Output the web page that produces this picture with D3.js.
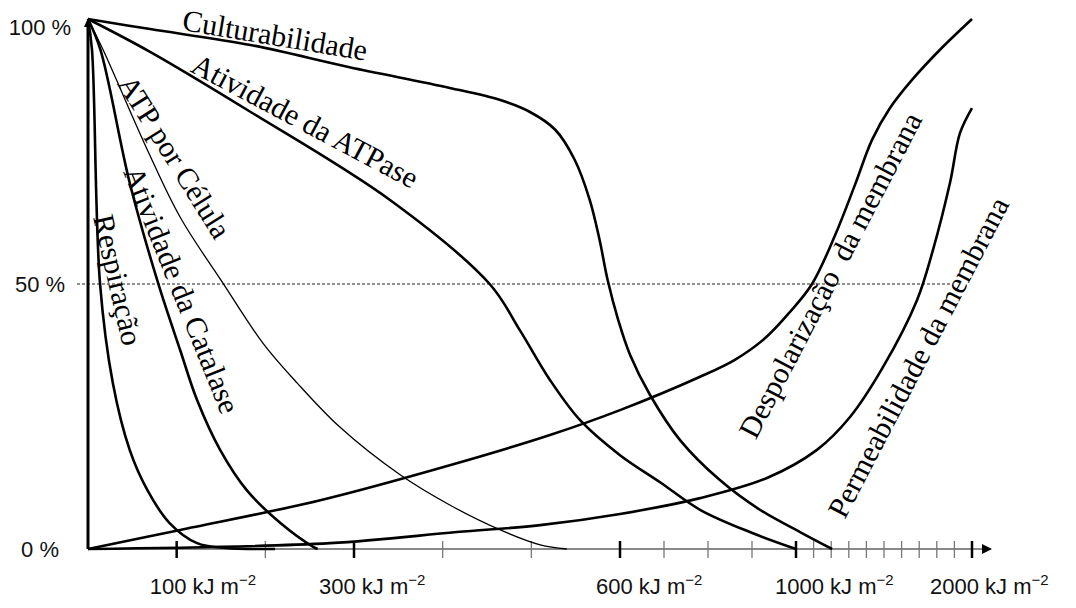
<!DOCTYPE html>
<html>
<head>
<meta charset="utf-8">
<script src="https://cdn.jsdelivr.net/npm/d3@7/dist/d3.min.js"></script>
<style>
  body { margin: 0; background: #fff; }
  .curve-label { font-family: "Liberation Serif", "Times New Roman", serif; font-size: 30px; fill: #000; }
  .axis-label { font-family: "Liberation Sans", Arial, sans-serif; font-size: 22px; fill: #111; }
</style>
</head>
<body>
<svg id="chart" width="1076" height="608"></svg>
<script>
// dose (kJ m-2) x resposta (%)
const culturabilidade = [[0,100],[70,98.1],[183,95.1],[295,90.9],[408,87],[465,84.7],[498,82.5],[527,79.1],[549,73.4],[566,65.8],[577,58.3],[586,50.8],[598,43.2],[623,36.6],[668,29.1],[736,20.6],[827,13],[918,7.4],[1023,3.2],[1205,0]];
const atividadeATPase = [[0,100],[70,93.8],[183,82.5],[341,65.8],[453,50],[487,41.3],[521,31.9],[555,24.3],[600,17.7],[691,12.6],[782,7.4],[895,3.2],[1000,0]];
const atpPorCelula = [[0,100],[17,94.2],[67,75.3],[104,62.6],[152,50.2],[197,38.9],[236,31.3],[284,23],[352,14],[408,8.3],[465,3.6],[510,0.8],[540,0]];
const atividadeCatalase = [[0,100],[14,94.2],[47,69.1],[79,50.2],[104,37.5],[123,28.1],[149,18.7],[179,11.1],[217,4.9],[254,0.4],[259,0]];
const respiracao = [[0,100],[4.5,94.2],[13.5,50.2],[28,31.3],[47,18.7],[67,11.1],[92,4.9],[123,1.1],[155,0.2],[211,0]];
const despolarizacao = [[0,0],[104,3.6],[262,9.2],[408,15.8],[521,21.5],[600,26.2],[782,32.5],[861,35.7],[930,39.8],[986,44.7],[1091,50],[1222,59.2],[1335,68.7],[1432,77.2],[1534,83.2],[1659,88.5],[1818,94.2],[2000,100]];
const permeabilidade = [[0,0],[273,1.1],[416,3.2],[510,4.5],[600,6.6],[782,9.6],[934,13.4],[1119,18.7],[1307,24.9],[1494,34.3],[1688,47],[1778,56.4],[1875,69.1],[1932,78.5],[2000,83.2]];

const xTicks = [100,200,300,400,500,600,700,800,900,1000,1100,1200,1300,1400,1500,1600,1700,1800,1900,2000];
const xLabels = [100,300,600,1000,2000];
const yLabels = [0,50,100];

const svg = d3.select('#chart');

// eixo de dose nao linear: 0-600, 600-1000, 1000-2000
const x = d3.scaleLinear().domain([0, 600, 1000, 2000]).range([88, 620, 796, 972]);
const y = d3.scaleLinear().domain([0, 100]).range([549, 19]);

// linha de 50 %
svg.append('line')
  .attr('x1', x(0) - 11).attr('x2', 952)
  .attr('y1', y(50)).attr('y2', y(50))
  .attr('stroke', '#222').attr('stroke-width', 1)
  .attr('stroke-dasharray', '3,2');

// eixo x
svg.append('line')
  .attr('x1', x(0)).attr('x2', 984)
  .attr('y1', y(0)).attr('y2', y(0))
  .attr('stroke', '#888').attr('stroke-width', 2);
svg.append('path')
  .attr('d', `M982,${y(0) - 5}L992,${y(0)}L982,${y(0) + 5}Z`)
  .attr('fill', '#000');

svg.selectAll('line.tick')
  .data(xTicks)
  .enter().append('line')
  .attr('class', 'tick')
  .attr('x1', d => x(d)).attr('x2', d => x(d))
  .attr('y1', y(0) - 8).attr('y2', y(0) + 9)
  .attr('stroke', d => xLabels.includes(d) ? '#000' : '#777')
  .attr('stroke-width', d => xLabels.includes(d) ? 2.5 : 1.3);

// deslocamento dos rotulos em relacao ao traco
const labelShift = { 100: -27, 300: -35, 600: -24, 1000: -21, 2000: -42 };
const xl = svg.selectAll('text.xlab')
  .data(xLabels)
  .enter().append('text')
  .attr('class', 'axis-label xlab')
  .attr('x', d => x(d) + labelShift[d])
  .attr('y', 594);
xl.append('tspan').text(d => d + ' kJ m');
xl.append('tspan').attr('dy', -9).attr('font-size', 15).text('\u22122');

// eixo y
svg.append('line')
  .attr('x1', x(0)).attr('x2', x(0))
  .attr('y1', y(0)).attr('y2', y(100) + 4)
  .attr('stroke', '#000').attr('stroke-width', 3);
svg.append('path')
  .attr('d', `M${x(0) - 4},${y(100) + 8}L${x(0)},${y(100) - 1}L${x(0) + 4},${y(100) + 8}Z`)
  .attr('fill', '#000');

svg.selectAll('text.ylab')
  .data(yLabels)
  .enter().append('text')
  .attr('class', 'axis-label ylab')
  .attr('x', 40)
  .attr('y', d => d === 100 ? y(d) + 16 : y(d) + 8)
  .attr('text-anchor', 'middle')
  .text(d => d + ' %');

// curvas
const line = d3.line()
  .x(d => x(d[0]))
  .y(d => y(d[1]))
  .curve(d3.curveCatmullRom.alpha(0.5));

const series = [
  { data: culturabilidade, w: 2.6 },
  { data: atividadeATPase, w: 2.6 },
  { data: atpPorCelula, w: 1.3 },
  { data: atividadeCatalase, w: 2.6 },
  { data: respiracao, w: 2.6 },
  { data: despolarizacao, w: 2.6 },
  { data: permeabilidade, w: 2.6 }
];

svg.selectAll('path.curve')
  .data(series)
  .enter().append('path')
  .attr('class', 'curve')
  .attr('d', d => line(d.data))
  .attr('fill', 'none')
  .attr('stroke', '#000')
  .attr('stroke-width', d => d.w)
  .attr('stroke-linejoin', 'round');

// rotulos das curvas (posicao em unidades de dados)
const curveLabels = [
  { text: 'Culturabilidade', dose: 211, pct: 97.0, angle: 9.5 },
  { text: 'Atividade da ATPase', dose: 245, pct: 80.8, angle: 28 },
  { text: 'ATP por Célula', dose: 98, pct: 74, angle: 58 },
  { text: 'Atividade da Catalase', dose: 106, pct: 48.9, angle: 68 },
  { text: 'Respiração', dose: 34, pct: 50.8, angle: 77 },
  { text: 'Despolarização  da membrana', dose: 1193, pct: 51.7, angle: -62.5 },
  { text: 'Permeabilidade da membrana', dose: 1693, pct: 36.2, angle: -62.4 }
];

svg.selectAll('text.curve-label')
  .data(curveLabels)
  .enter().append('text')
  .attr('class', 'curve-label')
  .attr('text-anchor', 'middle')
  .attr('dy', '0.35em')
  .style('white-space', 'pre')
  .attr('transform', d => `translate(${x(d.dose)},${y(d.pct)}) rotate(${d.angle})`)
  .text(d => d.text);
</script>
</body>
</html>
